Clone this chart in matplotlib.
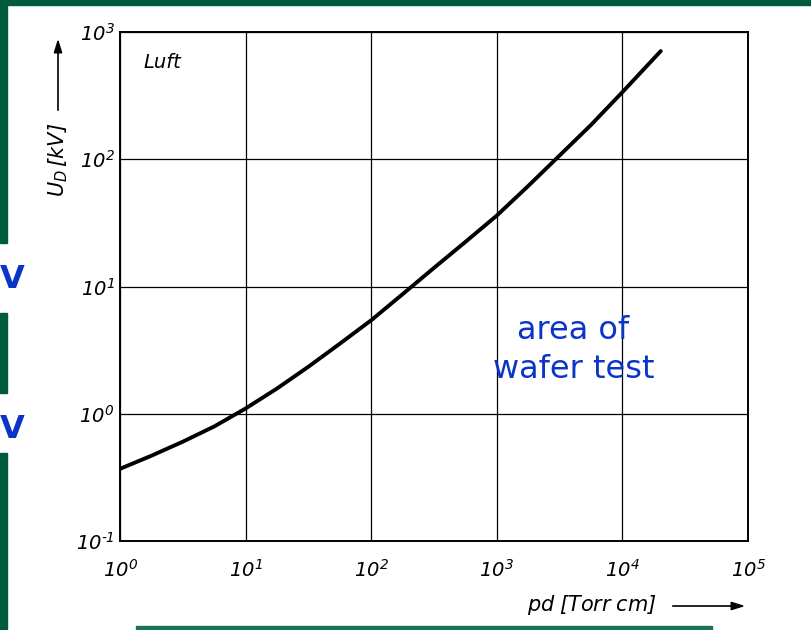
import matplotlib
matplotlib.use("Agg")
import matplotlib.pyplot as plt
from matplotlib.patches import Rectangle, FancyArrowPatch

# ---- data ----
pd_values = [1, 1.78, 3.16, 5.62, 10, 17.8, 31.6, 56.2, 100, 178, 316, 562,
             1000, 1780, 3160, 5620, 10000, 20200]
u_values = [0.369, 0.468, 0.603, 0.794, 1.10, 1.58, 2.34, 3.55, 5.43, 8.71, 14.0, 22.4,
            36.1, 61.7, 107, 186, 337, 708]
x_ticks = [1e0, 1e1, 1e2, 1e3, 1e4, 1e5]
x_tick_labels = [r"$10^{0}$", r"$10^{1}$", r"$10^{2}$", r"$10^{3}$", r"$10^{4}$", r"$10^{5}$"]
y_ticks = [1e-1, 1e0, 1e1, 1e2, 1e3]
y_tick_labels = [r"$10^{\text{-}1}$", r"$10^{0}$", r"$10^{1}$", r"$10^{2}$", r"$10^{3}$"]

plt.rcParams["mathtext.fontset"] = "custom"
plt.rcParams["mathtext.it"] = "DejaVu Sans:italic"
plt.rcParams["mathtext.rm"] = "DejaVu Sans:italic"
plt.rcParams["mathtext.default"] = "it"

W, H = 811, 630
fig = plt.figure(figsize=(W / 100, H / 100), dpi=100)
fig.patch.set_facecolor("white")

def fx(px):
    return px / W

def fy(py):
    return 1 - py / H

# ---- slide decorations ----
green = "#005a3c"
fig.patches.append(Rectangle((0, fy(5)), 1, 5 / H, transform=fig.transFigure,
                             color=green, zorder=0))
for top, bot in [(0, 243), (313, 393), (453, 630)]:
    fig.patches.append(Rectangle((0, fy(bot)), 7 / W, (bot - top) / H,
                                 transform=fig.transFigure, color=green, zorder=0))
fig.patches.append(Rectangle((fx(136), fy(630)), (712 - 136) / W, 4 / H,
                             transform=fig.transFigure, color="#1a7356", zorder=0))
for yc in [279, 429]:
    fig.text(fx(0), fy(yc), "V", color="#0a35c8", fontsize=23, fontweight="bold",
             ha="left", va="center", family="DejaVu Sans")

# ---- axes ----
left, right, top, bottom = 120, 748, 32, 541
ax = fig.add_axes([fx(left), fy(bottom), (right - left) / W, (bottom - top) / H])
ax.set_xscale("log")
ax.set_yscale("log")
ax.set_xlim(1e0, 1e5)
ax.set_ylim(1e-1, 1e3)
ax.plot(pd_values, u_values, color="black", lw=2.8, solid_capstyle="round",
        solid_joinstyle="round", zorder=3)

ax.set_xticks(x_ticks)
ax.set_xticklabels(x_tick_labels)
ax.set_yticks(y_ticks)
ax.set_yticklabels(y_tick_labels)
ax.minorticks_off()
ax.tick_params(axis="both", length=0, labelsize=14)
ax.tick_params(axis="x", pad=13)
ax.tick_params(axis="y", pad=4)
ax.grid(True, which="major", color="black", lw=0.9)
for s in ax.spines.values():
    s.set_linewidth(1.4)
    s.set_color("black")

ax.text(0.038, 0.94, "Luft", transform=ax.transAxes, fontsize=14, style="italic",
        ha="left", va="center")

ax.text(0.722, 0.375, "area of\nwafer test", transform=ax.transAxes, fontsize=23,
        color="#0a35c8", ha="center", va="center", linespacing=1.35,
        family="DejaVu Sans")

# ---- axis labels with arrows ----
fig.text(fx(58), fy(160), r"$U_D\,[kV]$", rotation=90, fontsize=15,
         ha="center", va="center")
fig.add_artist(FancyArrowPatch(
    (fx(58), fy(113)), (fx(58), fy(36)), transform=fig.transFigure,
    arrowstyle="-|>,head_length=8,head_width=2.5", color="black", lw=1.2))

fig.text(fx(592), fy(605), r"$pd\;[Torr\;cm]$", fontsize=15, ha="center", va="center")
fig.add_artist(FancyArrowPatch(
    (fx(670), fy(606)), (fx(748), fy(606)), transform=fig.transFigure,
    arrowstyle="-|>,head_length=8,head_width=2.5", color="black", lw=1.2))

fig.savefig("out.png", dpi=100, facecolor="white")
